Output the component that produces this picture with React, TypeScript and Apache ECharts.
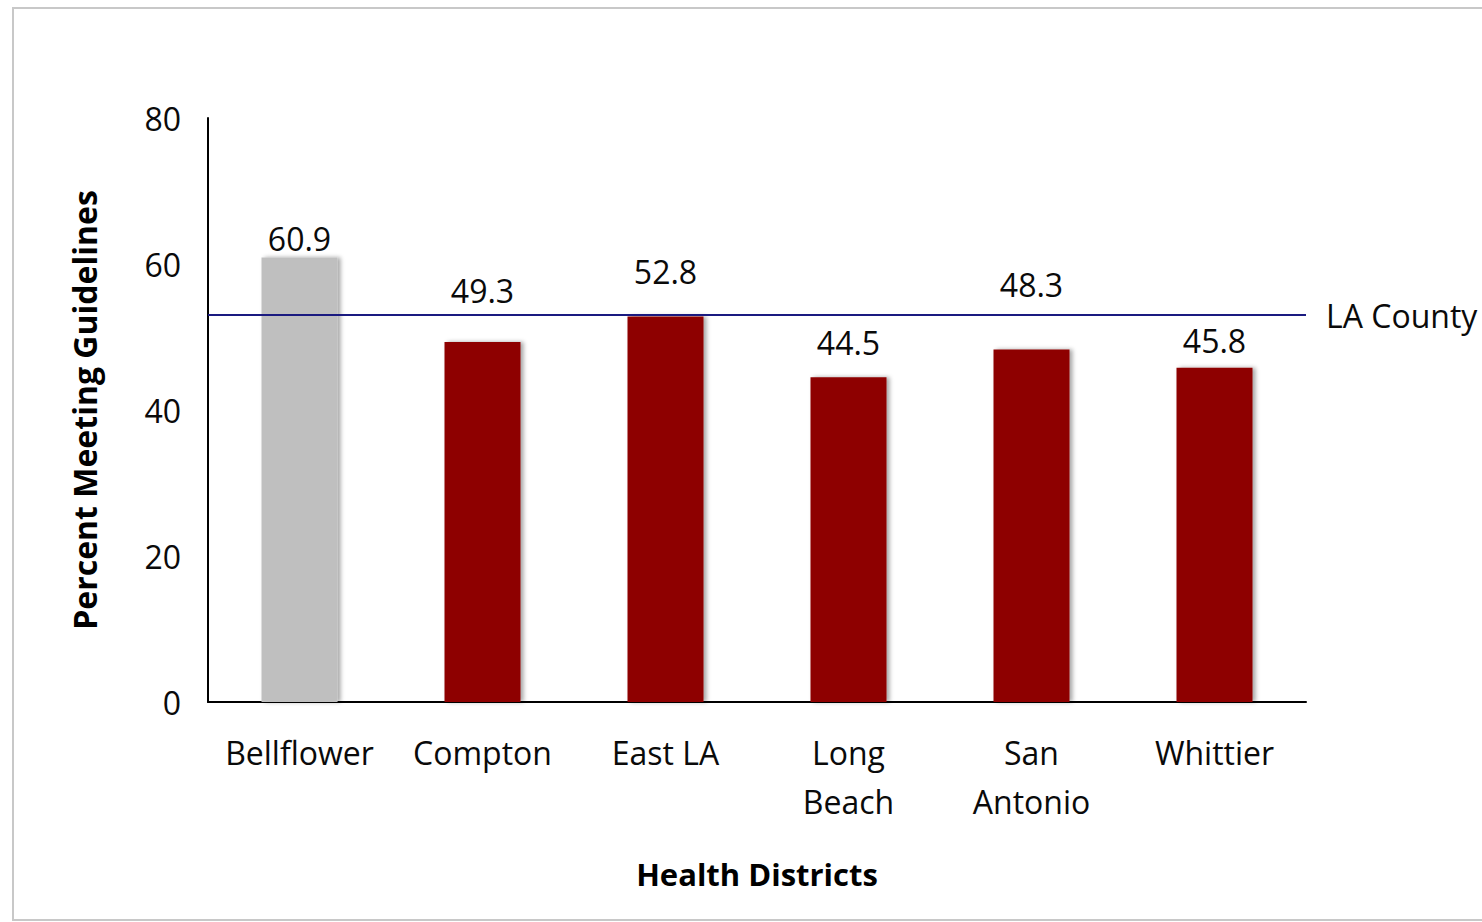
import React, { useEffect, useRef } from "react";
import * as echarts from "echarts";

const categories = ["Bellflower", "Compton", "East LA", "Long\nBeach", "San\nAntonio", "Whittier"];
const percentMeeting = [60.9, 49.3, 52.8, 44.5, 48.3, 45.8];
const laCounty = 53.0;
const yTicks = { min: 0, max: 80, interval: 20 };

const FONT = "'Open Sans', Lato, sans-serif";

export default function App() {
  const ref = useRef<HTMLDivElement>(null);
  useEffect(() => {
    if (!ref.current) return;
    const chart = echarts.init(ref.current, null, { renderer: "svg" });
    const labelGaps = [3, 36, 29, 19, 49, 11];
    const barColors = ["#bfbfbf", "#8e0000", "#8e0000", "#8e0000", "#8e0000", "#8e0000"];
    chart.setOption({
      animation: false,
      backgroundColor: "#ffffff",
      textStyle: { fontFamily: FONT },
      graphic: [
        {
          type: "rect",
          shape: { x: 13, y: 8, width: 1500, height: 912 },
          style: { fill: "none", stroke: "#c8c8c8", lineWidth: 2 },
          silent: true,
        },
      ],
      grid: { left: 208, right: 176, top: 118, bottom: 220 },
      xAxis: {
        type: "category",
        data: categories,
        axisLine: { lineStyle: { color: "#000", width: 2 } },
        axisTick: { show: false },
        axisLabel: { color: "#0a0a0a", fontSize: 32, fontFamily: FONT, margin: 26, lineHeight: 49, interval: 0 },
        name: "Health Districts",
        nameLocation: "middle",
        nameGap: 156,
        nameTextStyle: { color: "#000", fontSize: 31, fontWeight: "bold", fontFamily: FONT },
      },
      yAxis: {
        type: "value",
        min: yTicks.min,
        max: yTicks.max,
        interval: yTicks.interval,
        splitLine: { show: false },
        axisLine: { show: true, lineStyle: { color: "#000", width: 2 } },
        axisTick: { show: false },
        axisLabel: { color: "#0a0a0a", fontSize: 32, fontFamily: FONT, margin: 27 },
        name: "Percent Meeting Guidelines",
        nameLocation: "middle",
        nameGap: 108,
        nameRotate: 90,
        nameTextStyle: { color: "#000", fontSize: 32, fontWeight: "bold", fontFamily: FONT },
      },
      series: [
        {
          type: "bar",
          barWidth: 76,
          data: percentMeeting.map((v, i) => ({
            value: v,
            itemStyle: {
              color: barColors[i],
              shadowColor: "rgba(0,0,0,0.35)",
              shadowBlur: 4,
              shadowOffsetX: 3,
              shadowOffsetY: 0,
            },
            label: { distance: labelGaps[i] },
          })),
          label: {
            show: true,
            position: "top",
            color: "#0a0a0a",
            fontSize: 32,
            fontFamily: FONT,
            formatter: (p: any) => p.value.toFixed(1),
          },
          markLine: {
            silent: true,
            symbol: "none",
            lineStyle: { color: "#1a1a80", width: 2, type: "solid" },
            label: {
              show: true,
              position: "end",
              distance: 20,
              color: "#0a0a0a",
              fontSize: 32,
              fontFamily: FONT,
              formatter: "LA County",
            },
            data: [{ yAxis: laCounty }],
          },
        },
      ],
    });
    return () => chart.dispose();
  }, []);
  return <div ref={ref} style={{ position: "fixed", left: 0, top: 0, width: 1482, height: 922 }} />;
}
